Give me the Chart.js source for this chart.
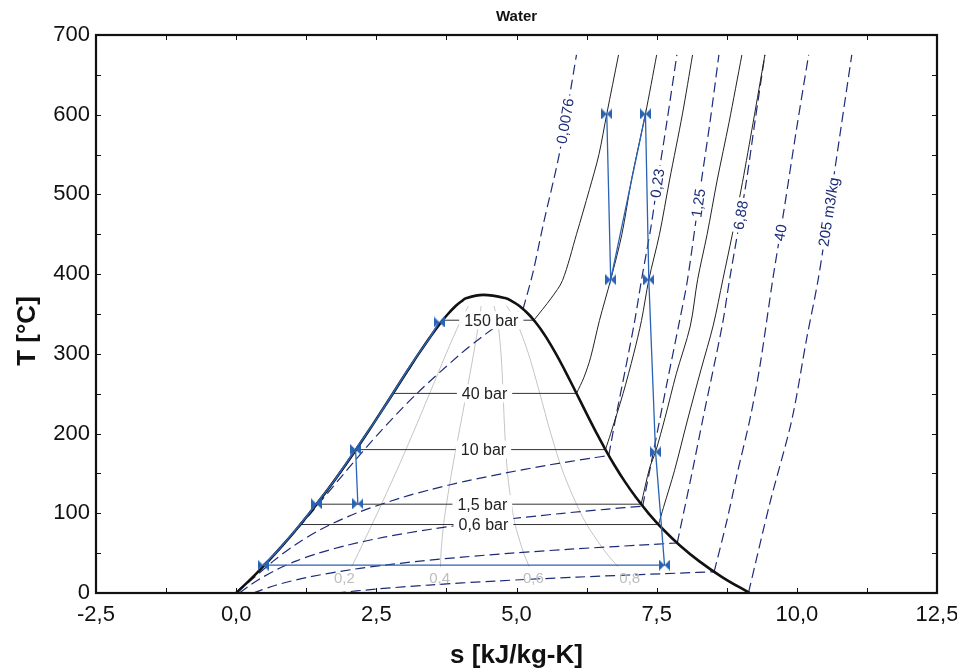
<!DOCTYPE html>
<html>
<head>
<meta charset="utf-8">
<title>Water T-s</title>
<script src="https://cdn.jsdelivr.net/npm/chart.js@4.4.1/dist/chart.umd.min.js"></script>
<style>
  html, body { margin: 0; padding: 0; background: #fff; }
</style>
</head>
<body>
<canvas id="tsChart" width="957" height="672"></canvas>
<script>
// saturation dome, [s kJ/kg-K, T °C]
const satDome = [
  [0.0000, 0.01], [0.2966, 20], [0.5725, 40], [0.8313, 60], [1.0753, 80], [1.3069, 100],
  [1.5276, 120], [1.7391, 140], [1.9427, 160], [2.1396, 180], [2.3309, 200], [2.5178, 220],
  [2.7015, 240], [2.8838, 260], [3.0668, 280], [3.2534, 300], [3.4480, 320], [3.5507, 330],
  [3.6594, 340], [3.7777, 350], [3.9147, 360], [4.0009, 365], [4.1106, 370], [4.4070, 373.95],
  [4.7971, 370], [4.9463, 365], [5.0526, 360], [5.2112, 350], [5.3357, 340], [5.4417, 330],
  [5.5362, 320], [5.7045, 300], [5.8571, 280], [6.0019, 260], [6.1437, 240], [6.2861, 220],
  [6.4323, 200], [6.5857, 180], [6.7502, 160], [6.9299, 140], [7.1296, 120], [7.3549, 100],
  [7.6122, 80], [7.9096, 60], [8.2570, 40], [8.6672, 20], [9.1562, 0.01]
];

// isobars: two-phase part + superheated part
const isobar150Wet = [[3.684, 342.2], [5.310, 342.2]];
const isobar40Wet = [[2.797, 250.4], [6.070, 250.4]];
const isobar10Wet = [[2.138, 179.9], [6.586, 179.9]];
const isobar15Wet = [[1.434, 111.4], [7.223, 111.4]];
const isobar06Wet = [[1.145, 85.9], [7.533, 85.9]];

const isobar150 = [[5.31, 342.2], [5.62, 370], [5.82, 392], [6.07, 450], [6.30, 506], [6.47, 550], [6.61, 601], [6.82, 675]];
const isobar40 = [[6.07, 250.4], [6.20, 270], [6.32, 295], [6.48, 342], [6.68, 393], [6.88, 450], [7.05, 518], [7.30, 601], [7.50, 675]];
const isobar10 = [[6.586, 179.9], [6.68, 200], [6.90, 250], [7.09, 300], [7.23, 342], [7.36, 393], [7.55, 450], [7.73, 518], [7.96, 601], [8.14, 675]];
const isobar15 = [[7.223, 111.4], [7.375, 157], [7.48, 177], [7.65, 220], [7.85, 275], [8.10, 335], [8.23, 393], [8.40, 450], [8.58, 518], [8.79, 590], [9.02, 675]];
const isobar06 = [[7.533, 85.9], [7.62, 107], [7.82, 154], [8.05, 217], [8.29, 280], [8.51, 336], [8.68, 393], [8.85, 450], [9.03, 515], [9.22, 590], [9.43, 675]];

// isochores (m3/kg): wet part + dry part
const v0076Wet = [[0, 0.01], [0.708, 50], [1.331, 100], [1.925, 150], [2.540, 200], [3.219, 250], [4.003, 300], [4.358, 320], [4.750, 340], [4.966, 350], [5.116, 356]];
const v023Wet = [[0.010, 0.01], [0.330, 20], [0.662, 40], [1.043, 60], [1.515, 80], [2.136, 100], [2.967, 120], [3.483, 130], [4.078, 140], [4.765, 150], [5.527, 160], [6.409, 170], [6.646, 172.5]];
const v125Wet = [[0.056, 0.01], [0.254, 10], [0.478, 20], [0.741, 30], [1.064, 40], [1.469, 50], [1.984, 60], [2.639, 70], [3.472, 80], [4.518, 90], [5.827, 100], [6.590, 105], [7.250, 109]];
const v688Wet = [[0.306, 0.01], [0.717, 10], [1.294, 20], [2.114, 30], [2.646, 35], [3.280, 40], [4.033, 45], [4.919, 50], [5.963, 55], [7.180, 60], [7.867, 62.7]];
const v40Wet = [[1.777, 0.01], [2.510, 5], [3.441, 10], [4.619, 15], [6.093, 20], [7.926, 25], [8.525, 26.6]];

const v0076Dry = [[5.116, 356], [5.29, 401], [5.47, 460], [5.77, 553], [6.07, 675]];
const v023Dry = [[6.646, 172.5], [6.77, 220], [6.94, 280], [7.11, 342], [7.23, 393], [7.40, 460], [7.52, 518], [7.68, 590], [7.86, 675]];
const v125Dry = [[7.25, 109], [7.45, 180], [7.68, 262], [7.91, 342], [8.05, 393], [8.30, 518], [8.45, 590], [8.61, 675]];
const v688Dry = [[7.867, 62.7], [8.14, 154], [8.32, 217], [8.67, 336], [8.80, 393], [9.09, 512], [9.25, 590], [9.43, 675]];
const v40Dry = [[8.525, 26.6], [8.75, 90], [8.95, 154], [9.16, 217], [9.34, 284], [9.57, 393], [9.77, 480], [9.99, 580], [10.21, 675]];
const v205Dry = [[9.14, 1], [9.52, 113], [9.91, 217], [10.18, 321], [10.38, 393], [10.57, 480], [10.78, 580], [10.98, 675]];

// vapour quality lines
const quality02 = [[2.061, 33], [2.179, 50], [2.383, 80], [2.517, 100], [2.841, 150], [3.151, 200], [3.449, 250], [3.744, 300], [3.995, 340], [4.142, 360]];
const quality04 = [[3.645, 33], [3.653, 50], [3.690, 80], [3.726, 100], [3.840, 150], [3.971, 200], [4.105, 250], [4.234, 300], [4.330, 340], [4.370, 360]];
const quality06 = [[5.228, 33], [5.128, 50], [4.997, 80], [4.936, 100], [4.840, 150], [4.792, 200], [4.761, 250], [4.724, 300], [4.665, 340], [4.598, 360]];
const quality08 = [[6.812, 33], [6.602, 50], [6.305, 80], [6.145, 100], [5.839, 150], [5.612, 200], [5.417, 250], [5.214, 300], [5.000, 340], [4.825, 360]];

// cycle
const cycleStates = [[0.48, 35], [1.43, 112], [2.13, 180], [2.17, 112], [3.62, 340], [6.61, 601], [6.68, 393], [7.30, 601], [7.36, 393], [7.48, 177], [7.64, 35]];
const cycleLiquid = [[0.48, 35], [0.70, 50], [1.07, 80], [1.30, 100], [1.43, 112], [1.74, 140], [2.13, 180], [2.52, 220], [2.79, 250], [3.06, 280], [3.25, 300], [3.45, 320], [3.62, 340]];
const cycleBleed = [[2.13, 180], [2.17, 112]];
const cycleTurbine = [[6.61, 601], [6.68, 393], [7.30, 601], [7.36, 393], [7.48, 177], [7.64, 35], [0.48, 35]];

const BLUE = '#2a62b4';
const NAVY = '#1c2c78';
const BLACK = '#111';
const GREY = '#c4c4c4';
const FONT = '"Liberation Sans", Arial, Helvetica, sans-serif';

Chart.defaults.font.family = FONT;

const toXY = arr => arr.map(([s, t]) => ({ x: s, y: t }));

function lineSet(arr, color, width, dash, tension) {
  return {
    data: toXY(arr),
    showLine: true,
    borderColor: color,
    borderWidth: width,
    borderDash: dash || [],
    pointRadius: 0,
    tension: tension || 0,
    fill: false
  };
}

// bow-tie marker
const bowtie = document.createElement('canvas');
bowtie.width = 11;
bowtie.height = 11;
(function () {
  const c = bowtie.getContext('2d');
  c.fillStyle = BLUE;
  c.beginPath();
  c.moveTo(0, 0); c.lineTo(5.5, 5.5); c.lineTo(0, 11); c.closePath();
  c.moveTo(11, 0); c.lineTo(5.5, 5.5); c.lineTo(11, 11); c.closePath();
  c.fill();
})();

const dash = [10, 5];
const datasets = [
  { data: toXY(cycleStates), showLine: false, pointStyle: bowtie, pointRadius: 5 },
  lineSet(cycleLiquid, BLUE, 1.6, null, 0.3),
  lineSet(cycleBleed, BLUE, 1.3),
  lineSet(cycleTurbine, BLUE, 1.3),
  lineSet(satDome, BLACK, 2.6, null, 0.4),
  lineSet(isobar150Wet, '#333', 1), lineSet(isobar40Wet, '#333', 1), lineSet(isobar10Wet, '#333', 1),
  lineSet(isobar15Wet, '#333', 1), lineSet(isobar06Wet, '#333', 1),
  lineSet(isobar150, '#222', 1, null, 0.3), lineSet(isobar40, '#222', 1, null, 0.3), lineSet(isobar10, '#222', 1, null, 0.3),
  lineSet(isobar15, '#222', 1, null, 0.3), lineSet(isobar06, '#222', 1, null, 0.3),
  lineSet(v0076Wet, NAVY, 1.2, dash, 0.3), lineSet(v023Wet, NAVY, 1.2, dash, 0.3), lineSet(v125Wet, NAVY, 1.2, dash, 0.3),
  lineSet(v688Wet, NAVY, 1.2, dash, 0.3), lineSet(v40Wet, NAVY, 1.2, dash, 0.3),
  lineSet(v0076Dry, NAVY, 1.2, dash, 0.3), lineSet(v023Dry, NAVY, 1.2, dash, 0.3), lineSet(v125Dry, NAVY, 1.2, dash, 0.3),
  lineSet(v688Dry, NAVY, 1.2, dash, 0.3), lineSet(v40Dry, NAVY, 1.2, dash, 0.3), lineSet(v205Dry, NAVY, 1.2, dash, 0.3),
  lineSet(quality02, GREY, 1, null, 0.3), lineSet(quality04, GREY, 1, null, 0.3),
  lineSet(quality06, GREY, 1, null, 0.3), lineSet(quality08, GREY, 1, null, 0.3)
];

function onCurve(curve, t) {
  for (let i = 0; i < curve.length - 1; i++) {
    const a = curve[i], b = curve[i + 1];
    if (t >= a[1] && t <= b[1]) {
      const f = (t - a[1]) / (b[1] - a[1]);
      return { s: a[0] + f * (b[0] - a[0]), a, b };
    }
  }
  return null;
}

const curveLabels = {
  id: 'curveLabels',
  afterDatasetsDraw(chart) {
    const { ctx, scales: { x, y } } = chart;
    ctx.save();
    ctx.textAlign = 'center';
    ctx.textBaseline = 'middle';

    // pressure labels on the horizontal isobars
    ctx.font = '16px ' + FONT;
    [['150 bar', 4.55, 342.2], ['40 bar', 4.43, 250.4], ['10 bar', 4.41, 179.9],
     ['1,5 bar', 4.39, 111.4], ['0,6 bar', 4.41, 85.9]].forEach(([txt, s, t]) => {
      const px = x.getPixelForValue(s), py = y.getPixelForValue(t);
      const w = ctx.measureText(txt).width + 10;
      ctx.fillStyle = '#fff';
      ctx.fillRect(px - w / 2, py - 9, w, 18);
      ctx.fillStyle = '#222';
      ctx.fillText(txt, px, py + 1);
    });

    // specific volume labels along the isochores
    ctx.font = '15px ' + FONT;
    [['0,0076', v0076Dry, 592], ['0,23', v023Dry, 514], ['1,25', v125Dry, 489],
     ['6,88', v688Dry, 474], ['40', v40Dry, 452], ['205 m3/kg', v205Dry, 478]].forEach(([txt, curve, t]) => {
      const p = onCurve(curve, t);
      const px = x.getPixelForValue(p.s), py = y.getPixelForValue(t);
      const ang = Math.atan2(y.getPixelForValue(p.b[1]) - y.getPixelForValue(p.a[1]),
                             x.getPixelForValue(p.b[0]) - x.getPixelForValue(p.a[0]));
      const w = ctx.measureText(txt).width + 6;
      ctx.save();
      ctx.translate(px, py);
      ctx.rotate(ang);
      ctx.fillStyle = '#fff';
      ctx.fillRect(-w / 2, -7, w, 14);
      ctx.fillStyle = NAVY;
      ctx.fillText(txt, 0, 1);
      ctx.restore();
    });

    // quality labels
    ctx.fillStyle = '#bdbdbd';
    [['0,2', 1.93], ['0,4', 3.63], ['0,6', 5.30], ['0,8', 7.02]].forEach(([txt, s]) => {
      ctx.fillText(txt, x.getPixelForValue(s), y.getPixelForValue(17.5));
    });
    ctx.restore();
  }
};

const frameTicks = {
  id: 'frameTicks',
  afterDraw(chart) {
    const { ctx, chartArea: a, scales: { x, y } } = chart;
    ctx.save();
    ctx.strokeStyle = BLACK;
    ctx.lineWidth = 1;
    ctx.beginPath();
    x.ticks.forEach(tk => {
      const px = Math.round(x.getPixelForValue(tk.value)) + 0.5;
      ctx.moveTo(px, a.bottom); ctx.lineTo(px, a.bottom - 5);
      ctx.moveTo(px, a.top); ctx.lineTo(px, a.top + 5);
    });
    y.ticks.forEach(tk => {
      const py = Math.round(y.getPixelForValue(tk.value)) + 0.5;
      ctx.moveTo(a.left, py); ctx.lineTo(a.left + 5, py);
      ctx.moveTo(a.right, py); ctx.lineTo(a.right - 5, py);
    });
    ctx.stroke();
    ctx.lineWidth = 2.2;
    ctx.strokeRect(a.left, a.top, a.right - a.left, a.bottom - a.top);

    // titles
    ctx.fillStyle = BLACK;
    ctx.textAlign = 'center';
    ctx.textBaseline = 'middle';
    ctx.font = 'bold 15px ' + FONT;
    ctx.fillText('Water', (a.left + a.right) / 2, 17);
    ctx.font = 'bold 26px ' + FONT;
    ctx.translate(28, 331);
    ctx.rotate(-Math.PI / 2);
    ctx.fillText('T [°C]', 0, 0);
    ctx.restore();
  }
};

new Chart(document.getElementById('tsChart'), {
  type: 'scatter',
  data: { datasets },
  options: {
    responsive: false,
    animation: false,
    devicePixelRatio: 1,
    layout: { padding: { top: 35, right: 20, left: 0, bottom: 0 } },
    plugins: { legend: { display: false }, tooltip: { enabled: false }, title: { display: false } },
    scales: {
      x: {
        type: 'linear', min: -2.5, max: 12.5,
        afterFit: s => { s.height = 79; s.paddingLeft = 0; s.paddingRight = 0; },
        grid: { display: false, drawTicks: false }, border: { display: false },
        ticks: {
          stepSize: 1.25, autoSkip: false, maxRotation: 0, padding: 9, color: BLACK,
          font: { size: 22 },
          callback: v => {
            const r = v / 2.5;
            return Math.abs(r - Math.round(r)) > 1e-6 ? '' : v.toFixed(1).replace('.', ',');
          }
        },
        title: { display: true, text: 's [kJ/kg-K]', color: BLACK, font: { size: 26, weight: 'bold' }, padding: { top: 0, bottom: 1 } }
      },
      y: {
        type: 'linear', min: 0, max: 700,
        afterFit: s => { s.width = 96; s.paddingTop = 0; s.paddingBottom = 0; },
        grid: { display: false, drawTicks: false }, border: { display: false },
        ticks: {
          stepSize: 50, autoSkip: false, padding: 6, color: BLACK,
          font: { size: 22 },
          callback: v => (v % 100 === 0 ? String(v) : '')
        }
      }
    }
  },
  plugins: [curveLabels, frameTicks]
});
</script>
</body>
</html>
